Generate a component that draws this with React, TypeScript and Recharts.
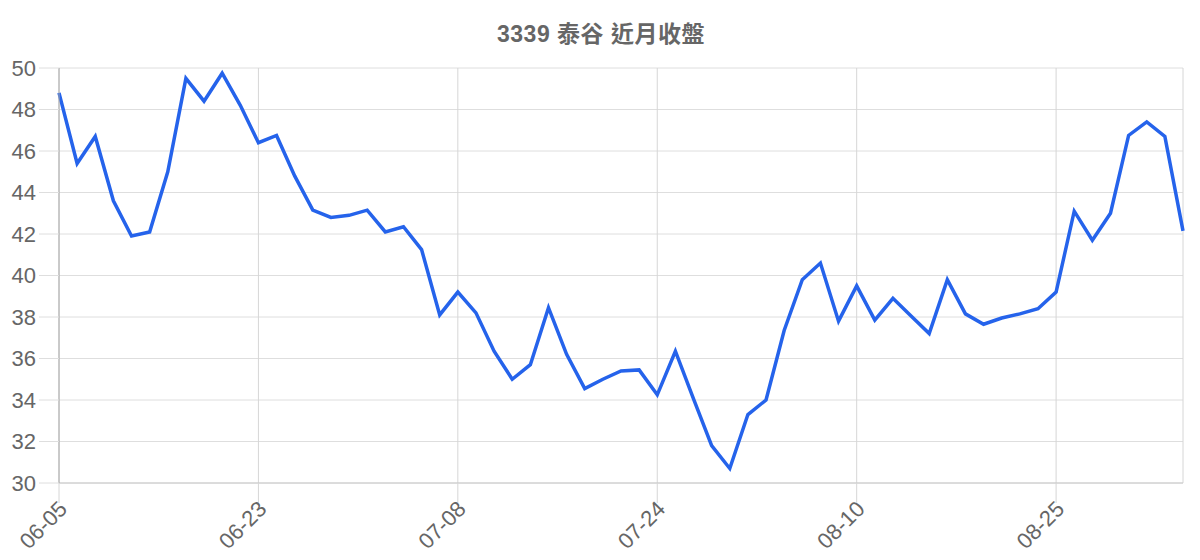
import { CartesianGrid, Line, LineChart, XAxis, YAxis } from "recharts"

const dates = [
  '06-05', '06-06', '06-09', '06-10', '06-11', '06-12', '06-13', '06-16', '06-17', '06-18', '06-19',
  '06-23', '06-24', '06-25', '06-26', '06-27', '06-30', '07-01', '07-02', '07-03', '07-04', '07-07',
  '07-08', '07-09', '07-10', '07-11', '07-14', '07-15', '07-16', '07-17', '07-18', '07-21', '07-22',
  '07-24', '07-25', '07-28', '07-29', '07-30', '07-31', '08-01', '08-04', '08-05', '08-06', '08-07',
  '08-10', '08-11', '08-12', '08-13', '08-14', '08-15', '08-18', '08-19', '08-20', '08-21', '08-22',
  '08-25', '08-26', '08-27', '08-28', '08-29', '09-01', '09-02', '09-03',
]

const closes = [
  48.8, 45.4, 46.7, 43.6, 41.9, 42.1, 45.0, 49.5, 48.4, 49.75, 48.2,
  46.4, 46.75, 44.8, 43.15, 42.8, 42.9, 43.15, 42.1, 42.35, 41.25, 38.1,
  39.2, 38.2, 36.35, 35.0, 35.7, 38.45, 36.2, 34.55, 35.0, 35.4, 35.45,
  34.25, 36.35, 34.05, 31.8, 30.7, 33.3, 34.0, 37.35, 39.8, 40.6, 37.8,
  39.5, 37.85, 38.9, 38.05, 37.2, 39.8, 38.15, 37.65, 37.95, 38.15, 38.4,
  39.2, 43.1, 41.7, 43.0, 46.75, 47.4, 46.7, 42.15,
]

const xTicks = ['06-05', '06-23', '07-08', '07-24', '08-10', '08-25']
const yTicks = [30, 32, 34, 36, 38, 40, 42, 44, 46, 48, 50]

const data = dates.map((d, i) => ({ date: d, close: closes[i] }))

const font = '"Liberation Sans", Arial, "Noto Sans CJK TC", sans-serif'

const XTick = ({ x, y, payload }: any) => (
  <g transform={`translate(${x + 4},${y})`}>
    <text textAnchor="end" transform="rotate(-45)" fill="#666" fontSize={22} fontFamily={font} dy="0.35em">
      {payload.value}
    </text>
  </g>
)

const App = () => {
  return (
    <div style={{ position: 'relative', width: 1200, height: 560, background: '#fff' }}>
      <style>{'body{margin:0}'}</style>
      <div
        style={{
          position: 'absolute', top: 23, left: 0, width: 1202, textAlign: 'center',
          fontFamily: font, fontSize: 23, lineHeight: '23px', fontWeight: 'bold', color: '#666',
          letterSpacing: 0.5,
        }}
      >
        3339 泰谷 近月收盤
      </div>
      <LineChart width={1200} height={560} data={data} margin={{ top: 68, right: 17, left: 0, bottom: 0 }}>
        <CartesianGrid stroke="#dedede" vertical={false} />
        <CartesianGrid stroke="#d6d6d6" horizontal={false} />
        <XAxis
          dataKey="date"
          ticks={xTicks}
          interval={0}
          height={77}
          tickSize={20}
          tickMargin={2}
          tick={<XTick />}
          stroke="#c8c8c8"
          tickLine={{ stroke: '#d6d6d6' }}
        />
        <YAxis
          domain={[30, 50]}
          ticks={yTicks}
          width={59}
          tickSize={20}
          tickMargin={3}
          stroke="#a8a8a8"
          tickLine={{ stroke: '#dedede' }}
          tick={{ fill: '#666', fontSize: 22, fontFamily: font }}
        />
        <Line
          type="linear"
          dataKey="close"
          stroke="#2563eb"
          strokeWidth={3.5}
          dot={false}
          isAnimationActive={false}
        />
      </LineChart>
    </div>
  )
}

export default App
